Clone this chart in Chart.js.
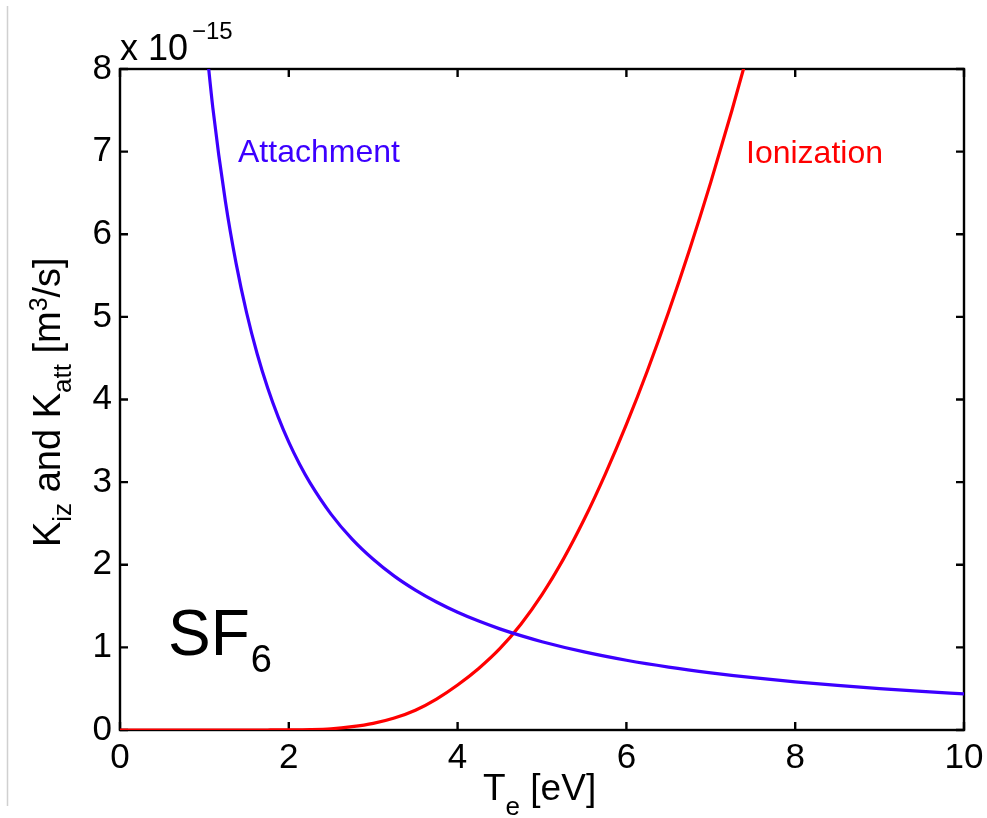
<!DOCTYPE html>
<html><head><meta charset="utf-8">
<script src="https://cdn.jsdelivr.net/npm/chart.js@4.4.1/dist/chart.umd.min.js"></script>
<style>html,body{margin:0;padding:0;background:#fff;overflow:hidden}</style>
</head><body>
<canvas id="c" width="987" height="818"></canvas>
<script>
// Electron temperature (eV) and rate coefficients (units of 1e-15 m^3/s)
const attT = [1.0,1.1,1.25,1.375,1.5,1.625,1.75,1.875,2,2.125,2.25,2.5,2.75,3,3.25,3.5,3.75,4,4.25,4.5,4.75,5,5.5,6,6.5,7,7.5,8,8.5,9,9.5,10];
const attK = [8.52,7.53,6.389,5.650,5.050,4.554,4.139,3.787,3.484,3.222,2.994,2.613,2.310,2.066,1.862,1.693,1.549,1.425,1.318,1.224,1.142,1.069,0.945,0.844,0.761,0.692,0.633,0.583,0.539,0.500,0.467,0.437];
const izT = [0,0.25,0.5,0.75,1,1.25,1.5,1.75,2,2.25,2.5,2.75,3,3.25,3.5,3.75,4,4.25,4.5,4.75,5,5.25,5.5,5.75,6,6.25,6.5,6.75,7,7.25,7.5];
const izK = [0,0,0,0,0,0,0,0.0003,0.0015,0.005,0.015,0.04,0.08,0.145,0.24,0.375,0.545,0.745,0.984,1.281,1.638,2.062,2.550,3.098,3.698,4.351,5.058,5.818,6.631,7.497,8.416];
const xTicks = [0,2,4,6,8,10];
const yTicks = [0,1,2,3,4,5,6,7,8];

const BLUE = '#3c00ff', RED = '#ff0000';
const FONT = '"Liberation Sans", Arial, Helvetica, sans-serif';

const toPts = (xs, ys) => xs.map((x, i) => ({x: x, y: ys[i]}));

const framePlugin = {
  id: 'frame',
  beforeDatasetsDraw(chart) {
    const {ctx, chartArea: a, scales} = chart;
    ctx.save();
    ctx.strokeStyle = '#000';
    ctx.lineWidth = 2.4;
    ctx.strokeRect(a.left, a.top, a.right - a.left, a.bottom - a.top);
    const L = 8;
    ctx.beginPath();
    xTicks.forEach(v => {
      const px = scales.x.getPixelForValue(v);
      ctx.moveTo(px, a.bottom); ctx.lineTo(px, a.bottom - L);
      ctx.moveTo(px, a.top); ctx.lineTo(px, a.top + L);
    });
    yTicks.forEach(v => {
      const py = scales.y.getPixelForValue(v);
      ctx.moveTo(a.left, py); ctx.lineTo(a.left + L, py);
      ctx.moveTo(a.right, py); ctx.lineTo(a.right - L, py);
    });
    ctx.stroke();
    // light gray edge line of the original figure
    ctx.strokeStyle = '#d0d0d0';
    ctx.lineWidth = 1.5;
    ctx.beginPath(); ctx.moveTo(7.5, 6); ctx.lineTo(7.5, 806); ctx.stroke();
    ctx.restore();
  },
  afterDraw(chart) {
    const {ctx} = chart;
    ctx.save();
    ctx.fillStyle = '#000';
    ctx.textBaseline = 'alphabetic';
    ctx.textAlign = 'left';
    // exponent label
    ctx.font = '36px ' + FONT;
    ctx.fillText('x 10', 120, 60);
    ctx.font = '24px ' + FONT;
    ctx.fillText('\u221215', 192, 39);
    // x title
    let x = 483;
    ctx.font = '37px ' + FONT;
    ctx.fillText('T', x, 800); x += ctx.measureText('T').width;
    ctx.font = '26px ' + FONT;
    ctx.fillText('e', x, 815); x += ctx.measureText('e').width;
    ctx.font = '37px ' + FONT;
    ctx.fillText(' [eV]', x, 800);
    // y title (rotated)
    ctx.save();
    ctx.translate(60, 547);
    ctx.rotate(-Math.PI / 2);
    let t = 0;
    const seg = (s, size, dy) => { ctx.font = size + 'px ' + FONT; ctx.fillText(s, t, dy); t += ctx.measureText(s).width; };
    seg('K', 38, 0); seg('iz', 26, 11); seg(' and K', 38, 0); seg('att', 26, 11);
    seg(' [m', 38, 0); seg('3', 25, -13); seg('/s]', 38, 0);
    ctx.restore();
    // curve labels
    ctx.font = '32px ' + FONT;
    ctx.fillStyle = BLUE;
    ctx.fillText('Attachment', 238, 162);
    ctx.fillStyle = RED;
    ctx.fillText('Ionization', 746, 163);
    // SF6
    ctx.fillStyle = '#000';
    ctx.font = '64px ' + FONT;
    ctx.fillText('SF', 168, 655);
    const w = ctx.measureText('SF').width;
    ctx.font = '38px ' + FONT;
    ctx.fillText('6', 168 + w + 1, 672);
    ctx.restore();
  }
};

new Chart(document.getElementById('c'), {
  type: 'scatter',
  data: {
    datasets: [
      {label: 'Attachment', data: toPts(attT, attK), showLine: true, borderColor: BLUE, borderWidth: 3.2,
       pointRadius: 0, cubicInterpolationMode: 'monotone', fill: false},
      {label: 'Ionization', data: toPts(izT, izK), showLine: true, borderColor: RED, borderWidth: 3.2,
       pointRadius: 0, cubicInterpolationMode: 'monotone', fill: false}
    ]
  },
  options: {
    responsive: false,
    animation: false,
    devicePixelRatio: 1,
    layout: {padding: {left: 0, right: 23, top: 69, bottom: 0}},
    plugins: {legend: {display: false}, tooltip: {enabled: false}},
    scales: {
      x: {
        type: 'linear', min: 0, max: 10,
        afterBuildTicks: s => { s.ticks = xTicks.map(v => ({value: v})); },
        afterFit: s => { s.height = 88; s.paddingLeft = 0; s.paddingRight = 0; },
        grid: {display: false, drawTicks: false},
        border: {display: false},
        ticks: {color: '#000', font: {size: 35, family: FONT}, padding: 7, maxRotation: 0, autoSkip: false}
      },
      y: {
        type: 'linear', min: 0, max: 8,
        afterBuildTicks: s => { s.ticks = yTicks.map(v => ({value: v})); },
        afterFit: s => { s.width = 120; s.paddingTop = 0; s.paddingBottom = 0; },
        grid: {display: false, drawTicks: false},
        border: {display: false},
        ticks: {color: '#000', font: {size: 35, family: FONT}, padding: 8, autoSkip: false}
      }
    }
  },
  plugins: [framePlugin]
});
</script>
</body></html>
